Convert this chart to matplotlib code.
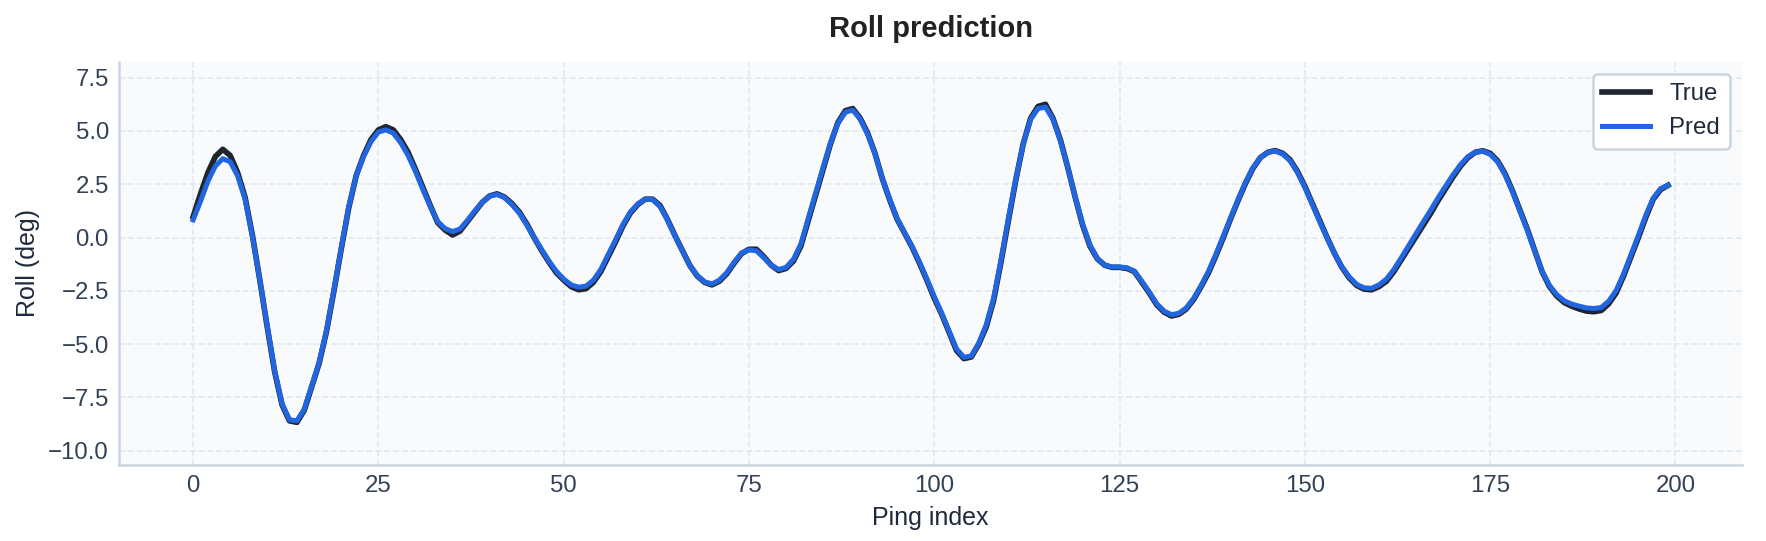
import numpy as np
import matplotlib
matplotlib.use("Agg")
import matplotlib.pyplot as plt

plt.rcParams['font.family'] = ['Liberation Sans', 'DejaVu Sans']

dpi = 150

# roll values, one per ping
roll_true = [
    0.98, 2.05, 3.05, 3.8, 4.14, 3.85, 3.05, 1.9, 0.1, -2.0,
    -4.2, -6.3, -7.85, -8.6, -8.67, -8.1, -7.0, -5.9, -4.4, -2.5,
    -0.5, 1.4, 2.9, 3.85, 4.6, 5.05, 5.2, 5.05, 4.6, 4.0,
    3.2, 2.35, 1.5, 0.7, 0.35, 0.12, 0.3, 0.75, 1.2, 1.65,
    1.95, 2.05, 1.9, 1.6, 1.2, 0.65, 0.0, -0.6, -1.15, -1.65,
    -2.0, -2.3, -2.45, -2.4, -2.1, -1.6, -0.9, -0.2, 0.55, 1.15,
    1.55, 1.8, 1.8, 1.5, 0.85, 0.1, -0.6, -1.3, -1.8, -2.1,
    -2.22, -2.05, -1.7, -1.2, -0.75, -0.55, -0.55, -0.9, -1.3, -1.55,
    -1.45, -1.1, -0.4, 0.8, 2.0, 3.2, 4.4, 5.4, 5.95, 6.05,
    5.6, 4.9, 3.95, 2.75, 1.75, 0.85, 0.2, -0.45, -1.2, -2.0,
    -2.85, -3.6, -4.45, -5.3, -5.68, -5.6, -5.0, -4.2, -2.95, -1.15,
    0.8, 2.7, 4.4, 5.6, 6.15, 6.25, 5.6, 4.6, 3.3, 1.9,
    0.6, -0.4, -1.0, -1.3, -1.4, -1.4, -1.45, -1.6, -2.1, -2.6,
    -3.15, -3.5, -3.68, -3.6, -3.35, -2.9, -2.3, -1.65, -0.85, 0.0,
    0.9, 1.75, 2.55, 3.25, 3.75, 4.0, 4.08, 3.95, 3.65, 3.1,
    2.4, 1.6, 0.8, 0.0, -0.75, -1.4, -1.9, -2.25, -2.42, -2.45,
    -2.3, -2.05, -1.6, -1.05, -0.5, 0.05, 0.6, 1.15, 1.75, 2.3,
    2.85, 3.35, 3.75, 4.0, 4.07, 3.95, 3.6, 3.0, 2.2, 1.3,
    0.4, -0.6, -1.6, -2.3, -2.75, -3.05, -3.22, -3.35, -3.45, -3.48,
    -3.42, -3.1, -2.6, -1.8, -0.9, 0.0, 0.95, 1.8, 2.25, 2.45,
]

roll_pred = [
    0.83, 1.7, 2.65, 3.35, 3.7, 3.55, 2.9, 1.8, 0.05, -2.0,
    -4.15, -6.25, -7.8, -8.55, -8.6, -8.05, -6.95, -5.85, -4.35, -2.45,
    -0.45, 1.45, 2.9, 3.8, 4.5, 4.95, 5.05, 4.9, 4.45, 3.85,
    3.1, 2.25, 1.45, 0.75, 0.42, 0.28, 0.4, 0.8, 1.25, 1.65,
    1.95, 2.02, 1.88, 1.55, 1.15, 0.6, 0.0, -0.55, -1.1, -1.58,
    -1.95, -2.22, -2.33, -2.28, -2.0, -1.5, -0.8, -0.1, 0.62, 1.2,
    1.58, 1.8, 1.78, 1.45, 0.82, 0.08, -0.62, -1.3, -1.78, -2.08,
    -2.18, -2.0, -1.65, -1.15, -0.72, -0.58, -0.62, -0.95, -1.3, -1.5,
    -1.4, -1.02, -0.3, 0.9, 2.1, 3.3, 4.45, 5.35, 5.88, 5.98,
    5.55, 4.85, 3.92, 2.75, 1.78, 0.88, 0.22, -0.42, -1.15, -1.95,
    -2.78, -3.55, -4.4, -5.22, -5.62, -5.55, -4.95, -4.1, -2.85, -1.05,
    0.9, 2.75, 4.4, 5.55, 6.05, 6.12, 5.55, 4.55, 3.3, 1.9,
    0.65, -0.35, -0.98, -1.3, -1.38, -1.38, -1.42, -1.58, -2.05, -2.55,
    -3.1, -3.45, -3.62, -3.55, -3.3, -2.85, -2.25, -1.58, -0.78, 0.08,
    0.95, 1.8, 2.6, 3.28, 3.75, 4.0, 4.06, 3.92, 3.6, 3.05,
    2.35, 1.55, 0.75, -0.02, -0.75, -1.38, -1.85, -2.2, -2.36, -2.38,
    -2.22, -1.95, -1.5, -0.95, -0.38, 0.18, 0.75, 1.3, 1.88, 2.42,
    2.95, 3.42, 3.8, 4.0, 4.05, 3.9, 3.55, 2.95, 2.15, 1.25,
    0.35, -0.62, -1.58, -2.25, -2.68, -2.97, -3.12, -3.22, -3.3, -3.33,
    -3.28, -2.98, -2.48, -1.7, -0.8, 0.1, 1.05, 1.85, 2.3, 2.45,
]

ping = np.arange(len(roll_true))

fig = plt.figure(figsize=(1766/dpi, 541/dpi), dpi=dpi)
ax = fig.add_subplot(111)
fig.subplots_adjust(left=0.0676, right=0.9863, top=0.886, bottom=0.1405)

ax.set_facecolor('#f8fafc')
ax.plot(ping, roll_true, c='#1f2530', lw=2.7, label='True', solid_joinstyle='round')
ax.plot(ping, roll_pred, c='#2166e0', lw=2.4, label='Pred', solid_joinstyle='round')

lo = min(min(roll_true), min(roll_pred))
hi = max(max(roll_true), max(roll_pred))
ax.set_ylim(lo - 2, hi + 2)

ax.grid(True, ls='--', lw=0.8, color='#e2e8f0')
ax.set_axisbelow(True)
for s in ['top', 'right']:
    ax.spines[s].set_visible(False)
for s in ['left', 'bottom']:
    ax.spines[s].set_color('#cbd5e1')
    ax.spines[s].set_linewidth(1.2)
ax.tick_params(length=0, pad=5, labelsize=11.5, labelcolor='#334155')

ax.set_xlabel('Ping index', fontsize=12, color='#1e293b')
ax.set_ylabel('Roll (deg)', fontsize=12, color='#1e293b')
ax.set_title('Roll prediction', fontsize=14, fontweight='bold', color='#222222', pad=12)

leg = ax.legend(loc='upper right', fontsize=11.5, frameon=True, framealpha=1)
leg.get_frame().set_edgecolor('#cbd5e1')
leg.get_frame().set_linewidth(1.2)
for t in leg.get_texts():
    t.set_color('#1e293b')

fig.savefig('out.png', dpi=dpi)
